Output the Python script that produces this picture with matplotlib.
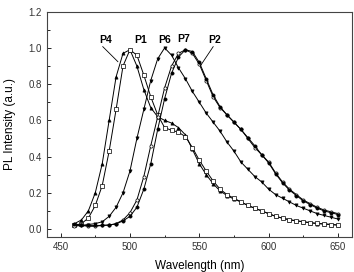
import numpy as np
import matplotlib.pyplot as plt

plt.rcParams['font.family'] = ['Liberation Sans', 'DejaVu Sans']

# wavelength grid (nm)
wl = list(range(460, 655, 5))

# PL spectra (normalised)
p4 = [0.03, 0.05, 0.10, 0.20, 0.36, 0.60, 0.84, 0.97, 0.99, 0.90,
      0.77, 0.67, 0.62, 0.60, 0.585, 0.56, 0.52, 0.44, 0.36, 0.30,
      0.25, 0.21, 0.185, 0.165, 0.15, 0.13, 0.115, 0.10, 0.085, 0.07,
      0.06, 0.05, 0.045, 0.04, 0.035, 0.03, 0.028, 0.025, 0.022]
p1 = [0.02, 0.03, 0.06, 0.13, 0.24, 0.43, 0.66, 0.90, 0.99, 0.96,
      0.85, 0.73, 0.63, 0.56, 0.545, 0.535, 0.51, 0.45, 0.38, 0.32,
      0.265, 0.22, 0.19, 0.17, 0.15, 0.13, 0.115, 0.10, 0.085, 0.07,
      0.06, 0.052, 0.046, 0.04, 0.035, 0.031, 0.028, 0.025, 0.022]
p6 = [0.02, 0.02, 0.025, 0.03, 0.04, 0.07, 0.12, 0.20, 0.32, 0.50,
      0.66, 0.82, 0.94, 1.00, 0.96, 0.89, 0.83, 0.76, 0.70, 0.64,
      0.59, 0.54, 0.48, 0.43, 0.37, 0.33, 0.29, 0.26, 0.22, 0.19,
      0.17, 0.15, 0.13, 0.115, 0.10, 0.085, 0.075, 0.065, 0.055]
p7 = [0.015, 0.02, 0.015, 0.015, 0.02, 0.022, 0.03, 0.05, 0.09, 0.16,
      0.29, 0.46, 0.62, 0.78, 0.90, 0.97, 0.99, 0.97, 0.91, 0.82,
      0.73, 0.67, 0.63, 0.59, 0.55, 0.50, 0.45, 0.41, 0.37, 0.31,
      0.26, 0.22, 0.19, 0.16, 0.14, 0.12, 0.105, 0.095, 0.085]
p2 = [0.03, 0.02, 0.02, 0.02, 0.02, 0.022, 0.028, 0.045, 0.07, 0.12,
      0.22, 0.36, 0.55, 0.72, 0.86, 0.95, 0.99, 0.98, 0.92, 0.83,
      0.74, 0.675, 0.63, 0.59, 0.55, 0.505, 0.46, 0.41, 0.365, 0.305,
      0.255, 0.215, 0.185, 0.155, 0.135, 0.115, 0.10, 0.09, 0.08]

series = [
    (p4, '^', 'k'),
    (p1, 's', 'w'),
    (p6, 'v', 'k'),
    (p7, 'o', 'w'),
    (p2, 'o', 'k'),
]

fig = plt.figure(figsize=(3.54, 2.72), dpi=100)
ax = fig.add_axes([0.132, 0.130, 0.862, 0.827])

for y, m, fc in series:
    ax.plot(wl, y, color='k', lw=0.7, marker=m, ms=2.3,
            mfc=fc, mec='k', mew=0.5)

# curve labels
lab_kw = dict(fontsize=7.5, fontweight='bold', ha='center', va='center')
ax.text(482.8, 1.045, 'P4', **lab_kw)
ax.text(508, 1.045, 'P1', **lab_kw)
ax.text(524.8, 1.045, 'P6', **lab_kw)
ax.text(538.5, 1.052, 'P7', **lab_kw)
ax.text(560.8, 1.045, 'P2', **lab_kw)
ax.plot([480.4, 491.3], [1.007, 0.924], color='k', lw=0.6)
ax.plot([560, 551.2], [1.007, 0.906], color='k', lw=0.6)

ax.set_xlim(440, 660)
ax.set_ylim(-0.042, 1.2)
ax.set_xticks([450, 500, 550, 600, 650])
ax.set_xticks(np.arange(475, 660, 50), minor=True)
ax.set_yticks(np.arange(0, 1.21, 0.2))
ax.set_yticks(np.arange(0.1, 1.2, 0.2), minor=True)
ax.tick_params(direction='in', labelsize=7, length=3, width=0.6, labelcolor='#333333')
ax.tick_params(which='minor', direction='in', length=1.8, width=0.6)
for s in ax.spines.values():
    s.set_linewidth(0.8)
    s.set_color('#444444')

ax.set_xlabel('Wavelength (nm)', fontsize=8.5, labelpad=6)
ax.set_ylabel('PL Intensity (a.u.)', fontsize=8.5, labelpad=9)

fig.savefig('out.png', dpi=100)
